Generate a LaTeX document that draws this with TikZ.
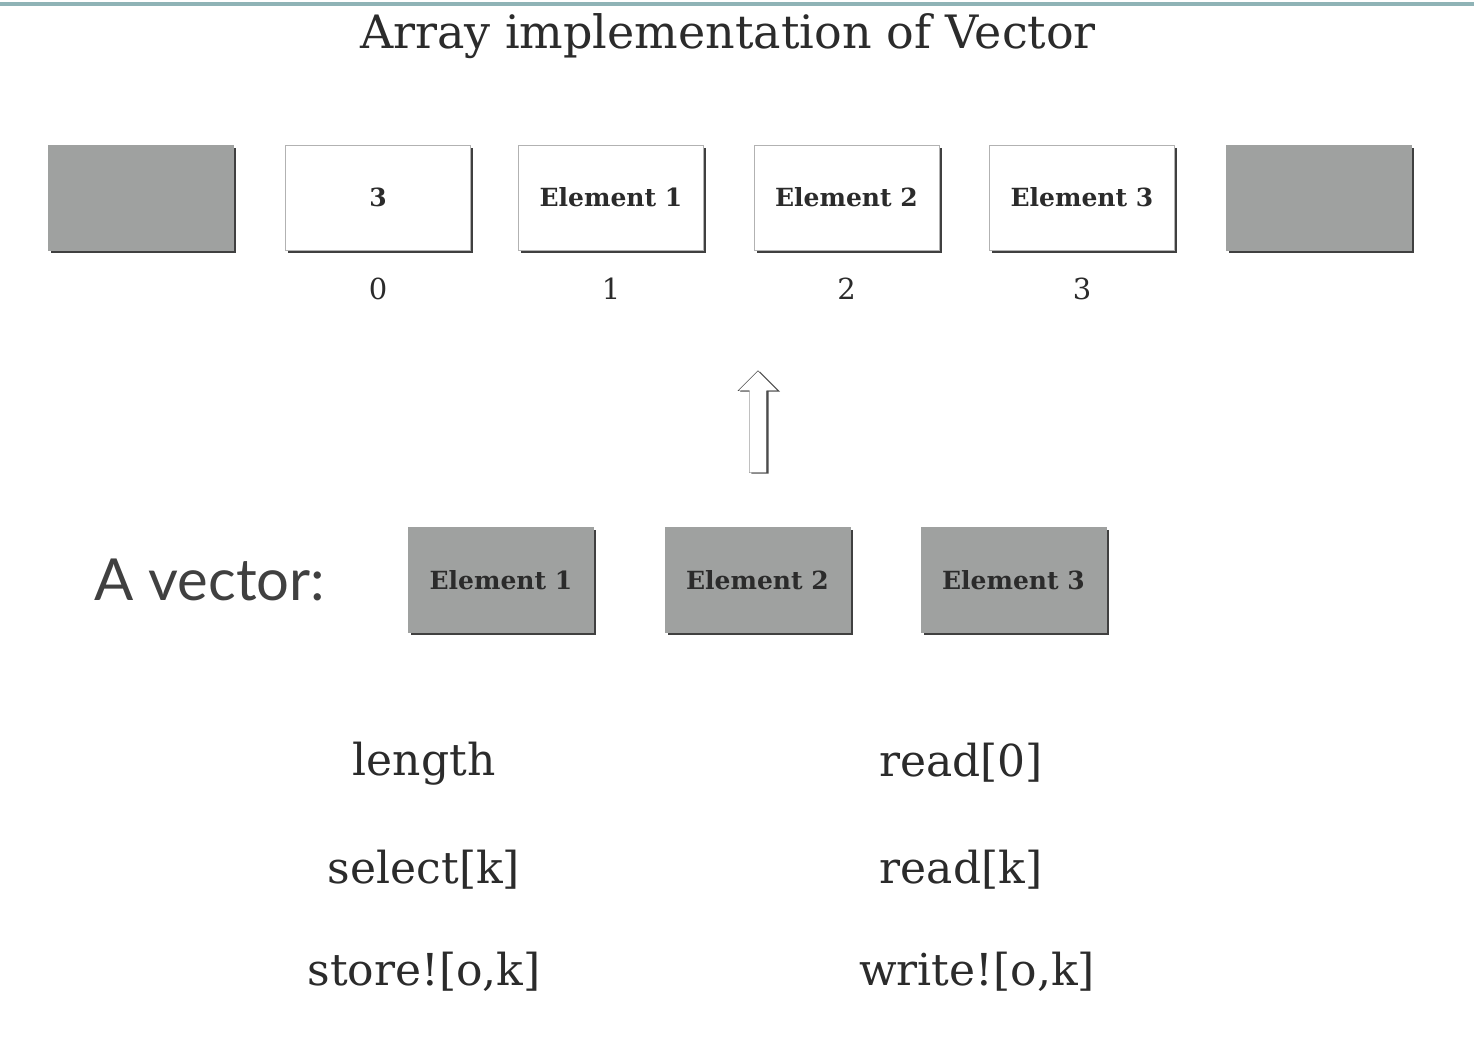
\documentclass[tikz,border=0pt]{standalone}
\usepackage{fontspec}
\setmainfont{DejaVu Serif}
\newfontfamily\labelfont{Lato}
\usetikzlibrary{positioning,shadows,shapes.arrows}

\definecolor{cellgray}{HTML}{9FA1A0}
\definecolor{rulecol}{HTML}{8FB3B6}
\definecolor{inkcol}{HTML}{2B2B2B}

\tikzset{
  cell/.style={draw=black!30, fill=white, minimum width=185pt, minimum height=105pt,
    inner sep=0pt, text=inkcol, font=\fontsize{25}{28}\selectfont\bfseries,
    drop shadow={shadow xshift=2.5pt, shadow yshift=-2.5pt, fill=black!75, opacity=1}},
  blank/.style={cell, fill=cellgray, draw=cellgray},
  vcell/.style={cell, fill=cellgray, draw=cellgray},
  idx/.style={font=\fontsize{29}{32}\selectfont, text=inkcol},
  op/.style={font=\fontsize{44}{50}\selectfont, text=inkcol},
}

\begin{document}
\begin{tikzpicture}[x=1pt, y=-1pt]
  \useasboundingbox (0,0) rectangle (1474,1044);
  \draw[rulecol, line width=4pt] (0,4) -- (1474,4);

  \node[font=\fontsize{46}{52}\selectfont, text=inkcol] (title) at (728,36) {Array implementation of Vector};

  % the array
  \node[blank] (a0) at (140.5,197.5) {};
  \node[cell] (a1) at (378,197.5) {3};
  \node[cell] (a2) at (611,197.5) {Element 1};
  \node[cell] (a3) at (846.5,197.5) {Element 2};
  \node[cell] (a4) at (1082,197.5) {Element 3};
  \node[blank] (a5) at (1318.5,197.5) {};

  \node[idx, below=24pt of a1] (i0) {0};
  \node[idx, below=24pt of a2] (i1) {1};
  \node[idx, below=24pt of a3] (i2) {2};
  \node[idx, below=24pt of a4] (i3) {3};

  \node[single arrow, draw=black!70, fill=white, shape border rotate=90,
    minimum height=102pt, minimum width=40pt, inner sep=8pt,
    single arrow head extend=11pt,
    drop shadow={shadow xshift=2pt, shadow yshift=-1pt, fill=black!70, opacity=1}] (up) at (758,426) {};

  % the vector
  \node[font=\labelfont\fontsize{58}{62}\selectfont, text=black!75] (vec) at (210,580) {A vector:};
  \node[vcell] (v1) at (501,580) {Element 1};
  \node[vcell] (v2) at (757.5,580) {Element 2};
  \node[vcell] (v3) at (1013.5,580) {Element 3};

  % operations
  \node[op] (len) at (424,764) {length};
  \node[op] (sel) at (424,870) {select[k]};
  \node[op] (sto) at (424,972) {store![o,k]};
  \node[op] (rd0) at (961,763) {read[0]};
  \node[op] (rdk) at (961,870) {read[k]};
  \node[op] (wrt) at (977,972) {write![o,k]};
\end{tikzpicture}
\end{document}
